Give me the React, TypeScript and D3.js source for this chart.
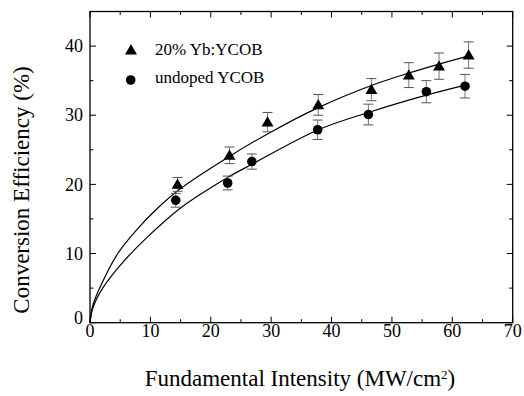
import React from "react";
import * as d3 from "d3";

// measured points
const dopedX = [14.5, 23.1, 29.4, 37.8, 46.6, 52.8, 57.8, 62.7];
const dopedY = [20.0, 24.2, 29.0, 31.5, 33.7, 35.8, 37.1, 38.7];
const dopedErr = [1.0, 1.2, 1.4, 1.5, 1.6, 1.8, 1.9, 1.9];

const undopedX = [14.2, 22.8, 26.8, 37.7, 46.1, 55.7, 62.1];
const undopedY = [17.7, 20.2, 23.3, 27.9, 30.1, 33.4, 34.2];
const undopedErr = [1.0, 1.0, 1.1, 1.4, 1.5, 1.6, 1.7];

// fitted curves
const dopedFitX = [0, 0.4, 1.6, 4.6, 7.7, 11, 15, 22.8, 29.4, 37.8, 46.6, 52.8, 57.8, 63.2];
const dopedFitY = [0, 2.3, 5, 10, 13.4, 16.4, 19.4, 23.9, 27.3, 31.1, 34.3, 36.1, 37.4, 38.7];
const undopedFitX = [0, 0.5, 2.1, 5, 9.4, 15, 22.8, 26.8, 37.8, 46.1, 55.7, 62.8];
const undopedFitY = [0, 2.2, 5, 8.3, 12.3, 16.6, 21.0, 22.9, 27.9, 30.4, 32.9, 34.5];

const xTicks = [0, 10, 20, 30, 40, 50, 60, 70];
const yTicks = [0, 10, 20, 30, 40];
const legendLabels = ["20% Yb:YCOB", "undoped YCOB"];

export default function App() {
  const width = 524;
  const height = 396;
  const margin = { top: 11.5, right: 11.3, bottom: 73.3, left: 90 };
  const innerWidth = width - margin.left - margin.right;
  const innerHeight = height - margin.top - margin.bottom;
  const font = "'Liberation Serif', 'Times New Roman', serif";

  const x = d3.scaleLinear().domain([0, 70]).range([0, innerWidth]);
  const y = d3.scaleLinear().domain([0, 45]).range([innerHeight, 0]);

  const line = d3
    .line<[number, number]>()
    .x((d) => x(d[0]))
    .y((d) => y(d[1]))
    .curve(d3.curveCatmullRom.alpha(0.5));

  const dopedFit = dopedFitX.map((v, i) => [v, dopedFitY[i]] as [number, number]);
  const undopedFit = undopedFitX.map((v, i) => [v, undopedFitY[i]] as [number, number]);

  const xMinor = d3.range(5, 70, 10);
  const yMinor = d3.range(5, 45, 10);
  const major = 6;
  const minor = 3.5;

  const tri = d3.symbol().type(d3.symbolTriangle).size(62)();

  const errBar = (cx: number, cy: number, e: number, key: string) => (
    <g key={key}>
      <line x1={x(cx)} x2={x(cx)} y1={y(cy - e)} y2={y(cy + e)} stroke="#777" strokeWidth={1} />
      <line x1={x(cx) - 5} x2={x(cx) + 5} y1={y(cy - e)} y2={y(cy - e)} stroke="#555" strokeWidth={1} />
      <line x1={x(cx) - 5} x2={x(cx) + 5} y1={y(cy + e)} y2={y(cy + e)} stroke="#555" strokeWidth={1} />
    </g>
  );

  return (
    <div style={{ position: "absolute", left: 0, top: 0 }}>
      <svg width={width} height={height} style={{ display: "block", background: "#fff" }}>
        <g transform={`translate(${margin.left},${margin.top})`}>
          {/* ticks, inward on all four sides */}
          {xTicks.map((t) => (
            <g key={"xt" + t}>
              <line x1={x(t)} x2={x(t)} y1={innerHeight} y2={innerHeight - major} stroke="#000" />
              <line x1={x(t)} x2={x(t)} y1={0} y2={major} stroke="#000" />
            </g>
          ))}
          {xMinor.map((t) => (
            <g key={"xm" + t}>
              <line x1={x(t)} x2={x(t)} y1={innerHeight} y2={innerHeight - minor} stroke="#000" />
              <line x1={x(t)} x2={x(t)} y1={0} y2={minor} stroke="#000" />
            </g>
          ))}
          {yTicks.map((t) => (
            <g key={"yt" + t}>
              <line x1={0} x2={major} y1={y(t)} y2={y(t)} stroke="#000" />
              <line x1={innerWidth} x2={innerWidth - major} y1={y(t)} y2={y(t)} stroke="#000" />
            </g>
          ))}
          {yMinor.map((t) => (
            <g key={"ym" + t}>
              <line x1={0} x2={minor} y1={y(t)} y2={y(t)} stroke="#000" />
              <line x1={innerWidth} x2={innerWidth - minor} y1={y(t)} y2={y(t)} stroke="#000" />
            </g>
          ))}
          <rect x={0} y={0} width={innerWidth} height={innerHeight} fill="none" stroke="#000" strokeWidth={1.3} />

          {/* tick labels */}
          {xTicks.map((t) => (
            <text key={"xl" + t} x={x(t)} y={innerHeight + 14} textAnchor="middle" fontFamily={font} fontSize={18}>
              {t}
            </text>
          ))}
          {yTicks.map((t) => (
            <text
              key={"yl" + t}
              x={-7}
              y={y(t) - (t === 0 ? 5 : 0)}
              dy="0.34em"
              textAnchor="end"
              fontFamily={font}
              fontSize={18}
            >
              {t}
            </text>
          ))}

          {/* fit curves */}
          <path d={line(dopedFit) ?? ""} fill="none" stroke="#000" strokeWidth={1.2} />
          <path d={line(undopedFit) ?? ""} fill="none" stroke="#000" strokeWidth={1.2} />

          {/* error bars */}
          {dopedX.map((v, i) => errBar(v, dopedY[i], dopedErr[i], "de" + i))}
          {undopedX.map((v, i) => errBar(v, undopedY[i], undopedErr[i], "ue" + i))}

          {/* markers */}
          {dopedX.map((v, i) => (
            <path key={"dm" + i} d={tri ?? ""} transform={`translate(${x(v)},${y(dopedY[i]) + 1})`} fill="#000" />
          ))}
          {undopedX.map((v, i) => (
            <circle key={"um" + i} cx={x(v)} cy={y(undopedY[i])} r={4.8} fill="#000" />
          ))}

          {/* legend */}
          <path d={tri ?? ""} transform={`translate(41,39.5)`} fill="#000" />
          <text x={65} y={43} fontFamily={font} fontSize={17}>
            {legendLabels[0]}
          </text>
          <circle cx={40.7} cy={68.5} r={4.8} fill="#000" />
          <text x={65} y={71.5} fontFamily={font} fontSize={17}>
            {legendLabels[1]}
          </text>
        </g>

        {/* axis titles */}
        <text x={300} y={386} textAnchor="middle" fontFamily={font} fontSize={23}>
          Fundamental Intensity (MW/cm
          <tspan baselineShift="super" fontSize={13}>
            2
          </tspan>
          )
        </text>
        <text
          transform="translate(29,190) rotate(-90)"
          textAnchor="middle"
          fontFamily={font}
          fontSize={23}
        >
          Conversion Efficiency (%)
        </text>
      </svg>
    </div>
  );
}
